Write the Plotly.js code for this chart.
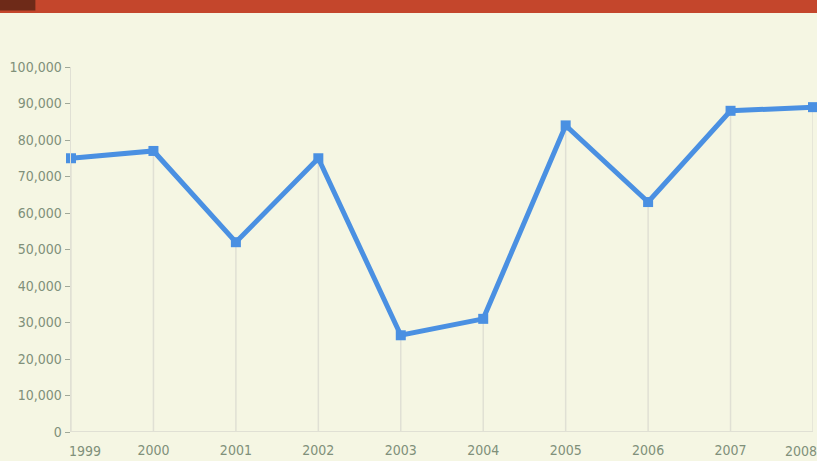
<!DOCTYPE html>
<html>
<head>
<meta charset="utf-8">
<script src="https://cdn.plot.ly/plotly-3.0.1.min.js"></script>
<style>
html,body{margin:0;padding:0;background:#f5f6e3;}
#chart{width:817px;height:461px;}
</style>
</head>
<body>
<div id="chart"></div>
<script>
const years = [1999, 2000, 2001, 2002, 2003, 2004, 2005, 2006, 2007, 2008];
const yearLabels = ['1999', '2000', '2001', '2002', '2003', '2004', '2005', '2006', '2007', '2008'];
const values = [75000, 77000, 52000, 75000, 26500, 31000, 84000, 63000, 88000, 89000];
const yTickVals = [0, 10000, 20000, 30000, 40000, 50000, 60000, 70000, 80000, 90000, 100000];
const yTickText = ['0', '10,000', '20,000', '30,000', '40,000', '50,000', '60,000', '70,000', '80,000', '90,000', '100,000'];

const fontFam = '"DejaVu Sans Condensed", "Liberation Sans Narrow", "Roboto", sans-serif';
const txtColor = '#80907a';

const dropLines = {
  x: years, y: values, type: 'scatter', mode: 'markers',
  marker: {size: 0.1, color: 'rgba(0,0,0,0)'},
  error_y: {type: 'data', symmetric: false, array: values.map(() => 0), arrayminus: values,
            color: '#e0e0d4', thickness: 1.5, width: 0},
  hoverinfo: 'skip', showlegend: false
};

const line = {
  x: years, y: values, type: 'scatter', mode: 'lines+markers',
  line: {color: '#4a90e2', width: 5},
  marker: {symbol: 'square', size: 10, color: '#4a90e2'},
  cliponaxis: false, showlegend: false
};

const n = years.length;
const midText = yearLabels.map((t, i) => (i === 0 || i === n - 1) ? '' : t);

const layout = {
  width: 817, height: 461,
  margin: {l: 71, r: 4, t: 67, b: 29},
  paper_bgcolor: '#f5f6e3', plot_bgcolor: '#f5f6e3',
  font: {family: fontFam, color: txtColor, size: 14},
  xaxis: {
    range: [1999, 2008], tickvals: years, ticktext: midText,
    showgrid: false, zeroline: false, showline: false, ticks: '',
    ticklabelstandoff: 8,
    tickfont: {family: fontFam, size: 14, color: txtColor}
  },
  yaxis: {
    range: [0, 100000], tickvals: yTickVals, ticktext: yTickText,
    showgrid: false, zeroline: false, showline: true, linecolor: '#e0e0d4', linewidth: 1.5,
    ticks: 'outside', ticklen: 5, tickcolor: '#a0a898', tickwidth: 1,
    tickfont: {family: fontFam, size: 14, color: txtColor}
  },
  annotations: [
    {xref: 'x', yref: 'paper', x: years[0], y: 0, text: yearLabels[0], showarrow: false,
     xanchor: 'left', yanchor: 'top', yshift: -9, xshift: -4,
     font: {family: fontFam, size: 14, color: txtColor}},
    {xref: 'x', yref: 'paper', x: years[n - 1], y: 0, text: yearLabels[n - 1], showarrow: false,
     xanchor: 'right', yanchor: 'top', yshift: -9, xshift: 6,
     font: {family: fontFam, size: 14, color: txtColor}}
  ],
  shapes: [
    {type: 'line', xref: 'paper', yref: 'y', x0: 0, x1: 1, y0: 0, y1: 0,
     line: {color: '#e0e0d4', width: 2}, layer: 'below'},
    {type: 'rect', xref: 'paper', yref: 'paper', x0: -0.1, x1: 1.01, y0: 1.148, y1: 1.19,
     fillcolor: '#c4462c', line: {width: 0}},
    {type: 'rect', xref: 'paper', yref: 'paper', x0: -0.1, x1: -0.048, y0: 1.155, y1: 1.19,
     fillcolor: '#6e2a18', line: {width: 0}}
  ]
};

Plotly.newPlot('chart', [dropLines, line], layout, {displayModeBar: false, staticPlot: true});
</script>
</body>
</html>
